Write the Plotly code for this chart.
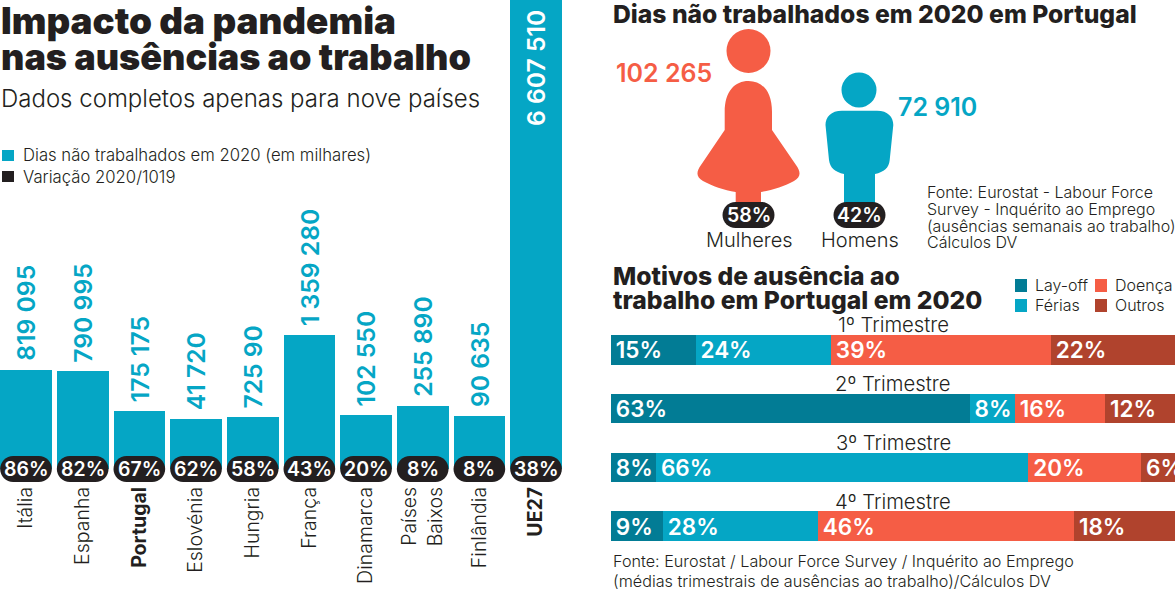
import plotly.graph_objects as go

W, H = 1175, 591
FONT = "Inter"

TEAL = "#05A6C5"
DARK_TEAL = "#027C95"
CORAL = "#F55D45"
BRICK = "#B0432D"
BLACK = "#231F20"

# Dias nao trabalhados por pais
PAISES = ["Itália", "Espanha", "<b>Portugal</b>", "Eslovénia", "Hungria", "França",
          "Dinamarca", "Países<br>Baixos", "Finlândia", "<b>UE27</b>"]
DIAS = [819095, 790995, 175175, 41720, 72590, 1359280, 102550, 255890, 90635, 6607510]
DIAS_TXT = ["819 095", "790 995", "175 175", "41 720", "725 90", "1 359 280",
            "102 550", "255 890", "90 635", "6 607 510"]
VARIACAO = ["86%", "82%", "67%", "62%", "58%", "43%", "20%", "8%", "8%", "38%"]

# Motivos de ausencia por trimestre
TRIMESTRES = ["1º Trimestre", "2º Trimestre", "3º Trimestre", "4º Trimestre"]
LAYOFF = [15.0, 63.6, 8.0, 9.2]
FERIAS = [24.0, 8.0, 66.0, 27.5]
DOENCA = [39.0, 16.0, 20.0, 45.4]
OUTROS = [22.0, 12.4, 6.0, 17.9]
LAYOFF_TXT = ["15%", "63%", "8%", "9%"]
FERIAS_TXT = ["24%", "8%", "66%", "28%"]
DOENCA_TXT = ["39%", "16%", "20%", "46%"]
OUTROS_TXT = ["22%", "12%", "6%", "18%"]


def px(x):
    return x / W


def py(y):
    return 1 - y / H


def pill_path(cx, cy, w, h):
    # rounded pill as a bezier path, in paper coordinates
    r = h / 2
    k = 0.55 * r
    x0, x1 = cx - w / 2, cx + w / 2
    y0, y1 = cy - r, cy + r
    pts = [
        f"M {px(x0 + r)} {py(y0)}", f"L {px(x1 - r)} {py(y0)}",
        f"C {px(x1 - r + k)} {py(y0)} {px(x1)} {py(cy - k)} {px(x1)} {py(cy)}",
        f"C {px(x1)} {py(cy + k)} {px(x1 - r + k)} {py(y1)} {px(x1 - r)} {py(y1)}",
        f"L {px(x0 + r)} {py(y1)}",
        f"C {px(x0 + r - k)} {py(y1)} {px(x0)} {py(cy + k)} {px(x0)} {py(cy)}",
        f"C {px(x0)} {py(cy - k)} {px(x0 + r - k)} {py(y0)} {px(x0 + r)} {py(y0)}", "Z",
    ]
    return " ".join(pts)


def icon_path(cmds):
    # cmds: list of (letter, [x, y, ...]) in pixels
    out = []
    for c, vals in cmds:
        coords = [px(v) if i % 2 == 0 else py(v) for i, v in enumerate(vals)]
        out.append(c + " " + " ".join(str(v) for v in coords))
    return " ".join(out) + " Z"


def rect(x0, y0, x1, y1, color):
    return dict(type="rect", xref="paper", yref="paper", x0=px(x0), x1=px(x1), y0=py(y0), y1=py(y1),
                fillcolor=color, line_width=0)


def label(x, y, s, size, color=BLACK, weight=300, anchor="left"):
    return dict(x=px(x), y=py(y), xref="paper", yref="paper", text=s, showarrow=False,
                xanchor=anchor, yanchor="middle", align=anchor, borderpad=0,
                font=dict(family=FONT, size=size, color=color, weight=weight))


fig = go.Figure()

# left chart: the bars run on below zero, down behind the black pills
BAR_FLOOR = -735900
fig.add_trace(go.Bar(x=PAISES, y=[d - BAR_FLOOR for d in DIAS], base=BAR_FLOOR, width=0.912,
                     marker=dict(color=TEAL, line_width=0), xaxis="x", yaxis="y", showlegend=False,
                     hoverinfo="skip"))

# right chart
for vals, txt, color in [(LAYOFF, LAYOFF_TXT, DARK_TEAL), (FERIAS, FERIAS_TXT, TEAL),
                         (DOENCA, DOENCA_TXT, CORAL), (OUTROS, OUTROS_TXT, BRICK)]:
    fig.add_trace(go.Bar(x=vals, y=TRIMESTRES, orientation="h", width=0.5,
                         text=["\u200a" + t for t in txt],
                         textposition="inside", insidetextanchor="start", textangle=0,
                         constraintext="none",
                         insidetextfont=dict(family=FONT, size=22.5, color="white", weight=600),
                         marker=dict(color=color, line_width=0), xaxis="x2", yaxis="y2",
                         showlegend=False, hoverinfo="skip"))

shapes = []
annotations = []

# value labels and pills for each country
for i, (pais, dias, txt, var) in enumerate(zip(PAISES, DIAS, DIAS_TXT, VARIACAO)):
    last = i == len(PAISES) - 1
    annotations.append(dict(x=pais, y=dias, xref="x", yref="y", text=txt, textangle=-90, showarrow=False,
                            xanchor="center", yanchor="top" if last else "bottom",
                            yshift=-8 if last else 7,
                            font=dict(family=FONT, size=24.7, color="white" if last else TEAL, weight=600)))
    shapes.append(dict(type="path", xref="paper", yref="paper", path=pill_path(26 + i * 56.67, 469, 51.7, 26),
                       fillcolor=BLACK, line_width=0))
    annotations.append(dict(x=pais, y=BAR_FLOOR, xref="x", yref="y", text=var, showarrow=False,
                            font=dict(family=FONT, size=19.5, color="white", weight=600)))

# quarter headers
for t in TRIMESTRES:
    annotations.append(dict(x=50, y=t, xref="x2", yref="y2", text=t, showarrow=False, yshift=25,
                            font=dict(family=FONT, size=20.3, color=BLACK, weight=300)))

# figures
woman = [("M", [724.7, 112]), ("C", [724.7, 91, 735, 81, 748.5, 81]), ("C", [762, 81, 772, 91, 772, 112]),
         ("L", [772, 130]), ("L", [796, 165]), ("C", [801, 172, 801, 177, 794, 181]),
         ("C", [785, 186, 773, 190, 761, 192]), ("L", [761, 208]), ("L", [735.7, 208]), ("L", [735.7, 192]),
         ("C", [724, 190, 712, 186, 703, 181]), ("C", [696, 177, 696, 172, 701, 165]), ("L", [724.7, 130])]
man = [("M", [842, 110.7]), ("L", [877, 110.7]), ("C", [888, 110.7, 893.3, 117, 893.3, 125]),
       ("L", [889.7, 160]), ("C", [889, 168, 884, 172, 875, 174]), ("L", [875, 208]), ("L", [844, 208]),
       ("L", [844, 174]), ("C", [835, 172, 830, 168, 829, 160]), ("L", [825.5, 125]),
       ("C", [825.5, 117, 831, 110.7, 842, 110.7])]
shapes += [
    dict(type="circle", xref="paper", yref="paper", x0=px(726.5), x1=px(770.5), y0=py(29), y1=py(73),
         fillcolor=CORAL, line_width=0),
    dict(type="path", xref="paper", yref="paper", path=icon_path(woman), fillcolor=CORAL, line_width=0),
    dict(type="circle", xref="paper", yref="paper", x0=px(841.5), x1=px(876.5), y0=py(72.5), y1=py(107.5),
         fillcolor=TEAL, line_width=0),
    dict(type="path", xref="paper", yref="paper", path=icon_path(man), fillcolor=TEAL, line_width=0),
    dict(type="path", xref="paper", yref="paper", path=pill_path(748.5, 215, 52, 26), fillcolor=BLACK, line_width=0),
    dict(type="path", xref="paper", yref="paper", path=pill_path(859.5, 215, 52, 26), fillcolor=BLACK, line_width=0),
    rect(2, 150, 14, 161, TEAL),
    rect(2, 171, 14, 182, BLACK),
    rect(1015, 279, 1027, 292, DARK_TEAL),
    rect(1015, 299, 1027, 312, TEAL),
    rect(1095, 279, 1107, 292, CORAL),
    rect(1095, 299, 1107, 312, BRICK),
]

annotations += [
    label(0, 21, "Impacto da pandemia", 36.8, weight=900),
    label(0, 57, "nas ausências ao trabalho", 36, weight=900),
    label(0, 99, "Dados completos apenas para nove países", 24),
    label(22, 155, "Dias não trabalhados em 2020 (em milhares)", 16.7),
    label(22, 177, "Variação 2020/1019", 16.7),
    label(612, 14, "Dias não trabalhados em 2020 em Portugal", 24.7, weight=800),
    label(615, 73, "102 265", 25, CORAL, 600),
    label(897, 107, "72 910", 25, TEAL, 600),
    label(748.5, 215, "58%", 19.5, "white", 600, "center"),
    label(859.5, 215, "42%", 19.5, "white", 600, "center"),
    label(749, 240, "Mulheres", 20, anchor="center"),
    label(860, 240, "Homens", 20, anchor="center"),
    label(926, 192, "Fonte: Eurostat - Labour Force", 16),
    label(926, 209, "Survey - Inquérito ao Emprego", 16),
    label(926, 226, "(ausências semanais ao trabalho)", 16),
    label(926, 242, "Cálculos DV", 16),
    label(612, 276, "Motivos de ausência ao", 24.7, weight=800),
    label(612, 300, "trabalho em Portugal em 2020", 24.7, weight=800),
    label(1034, 285, "Lay-off", 16),
    label(1034, 305, "Férias", 16),
    label(1114, 285, "Doença", 16),
    label(1114, 305, "Outros", 16),
    label(612, 561, "Fonte: Eurostat / Labour Force Survey / Inquérito ao Emprego", 16.2),
    label(612, 581, "(médias trimestrais de ausências ao trabalho)/Cálculos DV", 16.2),
]

fig.update_layout(
    width=W, height=H, margin=dict(l=0, r=0, t=0, b=0),
    paper_bgcolor="white", plot_bgcolor="rgba(0,0,0,0)",
    barmode="stack", showlegend=False,
    shapes=shapes, annotations=annotations,
    xaxis=dict(domain=[0, 566.7 / W], range=[-0.459, 9.541], type="category", categoryorder="array",
               categoryarray=PAISES, anchor="y", showgrid=False, showline=False, zeroline=False,
               ticks="", tickangle=-90, ticklabelstandoff=1,
               tickfont=dict(family=FONT, size=19.5, color=BLACK, weight=300)),
    yaxis=dict(domain=[py(481), 1], range=[-923800, 6607510], anchor="x", visible=False),
    xaxis2=dict(domain=[611 / W, 1], range=[0, 100], anchor="y2", visible=False),
    yaxis2=dict(domain=[py(555.5), py(320.5)], anchor="x2", range=[3.5, -0.5], visible=False),
)

# the page's default body margin would push the chart 8px off
fig.write_html("out.html", config={"displayModeBar": False}, post_script="document.body.style.margin='0';")
